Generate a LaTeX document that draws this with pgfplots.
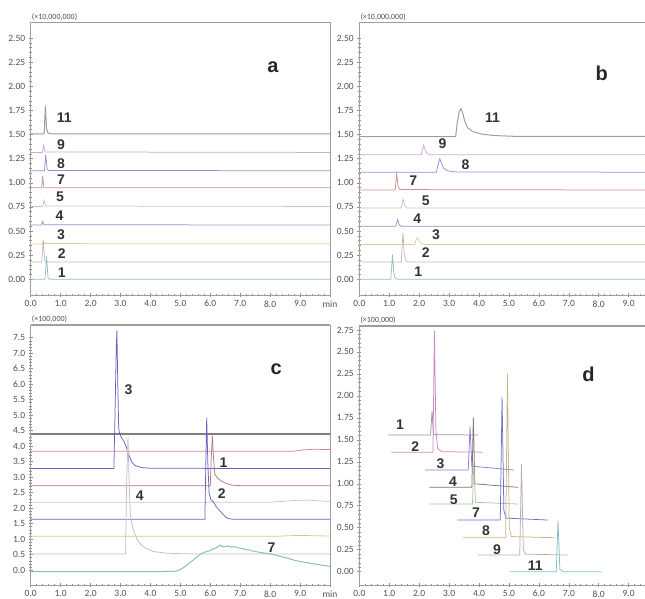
\documentclass[border=0pt]{standalone}
\usepackage{fontspec}
\setmainfont{Carlito}
\newfontfamily\lab{Liberation Sans}
\usepackage{pgfplots}
\pgfplotsset{compat=1.18}
\definecolor{framec}{HTML}{A89A9A}
\definecolor{tickc}{HTML}{505050}
\definecolor{cA}{HTML}{98BCC8}% 1 teal
\definecolor{cB}{HTML}{C4B8B0}% 2
\definecolor{cC}{HTML}{DCCCA0}% 3
\definecolor{cD}{HTML}{9A90C8}% 4
\definecolor{cE}{HTML}{B8D0B0}% 5
\definecolor{cF}{HTML}{C89090}% 7
\definecolor{cG}{HTML}{9090D0}% 8
\definecolor{cH}{HTML}{D0A8D4}% 9
\definecolor{cI}{HTML}{A89A9A}% 11
\definecolor{dk}{HTML}{8A7A7A}
\definecolor{rd}{HTML}{D08898}
\definecolor{bl}{HTML}{6A64C0}
\definecolor{br}{HTML}{B87878}
\definecolor{lg}{HTML}{B8D4B4}
\definecolor{ol}{HTML}{D4C890}
\definecolor{pg}{HTML}{CCB8BC}
\definecolor{tl}{HTML}{88BEC6}
\definecolor{dA}{HTML}{A88E9C}
\definecolor{dB}{HTML}{CC88C0}
\definecolor{dC}{HTML}{8A80C8}
\definecolor{dD}{HTML}{8A6E7A}
\definecolor{dE}{HTML}{A0C8A0}
\definecolor{dF}{HTML}{7070D0}
\definecolor{dG}{HTML}{C8B484}
\definecolor{dH}{HTML}{C0AAAA}
\definecolor{dI}{HTML}{84BCC4}
\pgfplotsset{
 chrom/.style={
  scale only axis, width=299.3pt,
  xmin=0, xmax=10, xtick={0,1,2,3,4,5,6,7,8,9,10},
  xticklabels={0.0,1.0,2.0,3.0,4.0,5.0,6.0,7.0,8.0,9.0,min},
  minor x tick num=4, minor y tick num=4,
  tick pos=left, tick align=center,
  major tick length=4pt, minor tick length=2.5pt,
  every tick/.style={draw=framec!90!black, line width=0.6pt},
  axis line style={draw=framec, line width=0.9pt},
  tick label style={font=\fontsize{9.5}{10}\selectfont, text=tickc},
  /pgf/number format/assume math mode=true,
  clip mode=individual,
  every axis plot/.append style={line width=0.75pt},
  after end axis/.code={\draw[framec, line width=1.6pt] (rel axis cs:0,1) -- (rel axis cs:1,1);},
 },
}
\tikzset{
 pk/.style={font=\lab\bfseries\fontsize{14}{14}\selectfont, text=black!80},
 pl/.style={font=\lab\bfseries\fontsize{20}{20}\selectfont, text=black!85},
 mult/.style={font=\fontsize{8}{8}\selectfont, text=tickc, anchor=south west, inner sep=1pt, yshift=1pt},
}
\begin{document}
\begin{tikzpicture}
\path[use as bounding box] (0pt,0pt) rectangle (645pt,598pt);
\clip (0pt,0pt) rectangle (645pt,598pt);
% ---------------- panel a
\begin{axis}[chrom, at={(30.7pt,303pt)}, anchor=south west, height=272.3pt,
  ymin=-0.163, ymax=2.66, ytick={0,0.25,...,2.5},
  yticklabel style={/pgf/number format/.cd, fixed, fixed zerofill, precision=2}]
\addplot[cA] coordinates {(0,0)(0.48,0)(0.53,0.24)(0.58,0.01)(0.65,0)(10,0)};
\addplot[cB] coordinates {(0,0.18)(0.37,0.18)(0.42,0.40)(0.47,0.19)(0.55,0.18)(10,0.18)};
\addplot[cC] coordinates {(0,0.367)(0.38,0.367)(0.42,0.40)(0.47,0.37)(10,0.367)};
\addplot[cD] coordinates {(0,0.563)(0.36,0.563)(0.40,0.60)(0.44,0.565)(10,0.563)};
\addplot[cE] coordinates {(0,0.755)(0.40,0.755)(0.45,0.82)(0.50,0.76)(10,0.755)};
\addplot[cF] coordinates {(0,0.948)(0.37,0.948)(0.40,1.07)(0.44,0.95)(10,0.948)};
\addplot[cG] coordinates {(0,1.126)(0.46,1.126)(0.50,1.29)(0.55,1.14)(0.62,1.127)(10,1.126)};
\addplot[cH] coordinates {(0,1.315)(0.39,1.315)(0.43,1.39)(0.48,1.32)(10,1.315)};
\addplot[cI, line width=1pt] coordinates {(0,1.507)(0.45,1.507)(0.49,1.80)(0.53,1.56)(0.58,1.515)(0.7,1.507)(10,1.507)};
\node[mult] at (rel axis cs:0,1) {(×10,000,000)};
\node[pk] at (axis cs:1.04,0.07) {1};
\node[pk] at (axis cs:1.04,0.27) {2};
\node[pk] at (axis cs:1.01,0.465) {3};
\node[pk] at (axis cs:0.96,0.66) {4};
\node[pk] at (axis cs:0.98,0.86) {5};
\node[pk] at (axis cs:1.01,1.03) {7};
\node[pk] at (axis cs:1.01,1.20) {8};
\node[pk] at (axis cs:1.01,1.40) {9};
\node[pk] at (axis cs:1.12,1.68) {11};
\node[pl] at (axis cs:8.09,2.20) {a};
\end{axis}
% ---------------- panel b
\begin{axis}[chrom, at={(359.3pt,303pt)}, anchor=south west, height=272.3pt,
  ymin=-0.163, ymax=2.66, ytick={0,0.25,...,2.5},
  yticklabel style={/pgf/number format/.cd, fixed, fixed zerofill, precision=2}]
\addplot[cA] coordinates {(0,0)(1.05,0)(1.08,0.12)(1.11,0.257)(1.15,0.07)(1.2,0.01)(1.3,0)(10,0)};
\addplot[cB] coordinates {(0,0.178)(1.40,0.178)(1.43,0.33)(1.46,0.48)(1.50,0.26)(1.56,0.19)(1.7,0.178)(10,0.178)};
\addplot[cC] coordinates {(0,0.36)(1.85,0.36)(1.90,0.41)(1.94,0.43)(2.00,0.40)(2.08,0.37)(2.2,0.36)(10,0.36)};
\addplot[cD] coordinates {(0,0.55)(1.22,0.55)(1.28,0.62)(1.34,0.56)(1.42,0.55)(10,0.55)};
\addplot[cE] coordinates {(0,0.74)(1.40,0.74)(1.46,0.83)(1.52,0.76)(1.6,0.74)(10,0.74)};
\addplot[cF] coordinates {(0,0.925)(1.20,0.925)(1.22,1.00)(1.25,1.09)(1.29,0.97)(1.35,0.93)(10,0.925)};
\addplot[cG] coordinates {(0,1.11)(2.58,1.11)(2.63,1.19)(2.69,1.25)(2.75,1.20)(2.82,1.15)(2.95,1.125)(3.2,1.113)(10,1.11)};
\addplot[cH] coordinates {(0,1.29)(2.07,1.29)(2.11,1.35)(2.15,1.39)(2.20,1.34)(2.27,1.30)(2.4,1.29)(10,1.29)};
\addplot[cI, line width=1pt] coordinates {(0,1.48)(3.22,1.48)(3.27,1.62)(3.34,1.74)(3.40,1.77)(3.46,1.72)(3.52,1.64)(3.62,1.57)(3.8,1.53)(4.1,1.505)(4.5,1.49)(5.2,1.482)(10,1.48)};
\node[mult] at (rel axis cs:0,1) {(×10,000,000)};
\node[pk] at (axis cs:1.97,0.08) {1};
\node[pk] at (axis cs:2.22,0.28) {2};
\node[pk] at (axis cs:2.56,0.46) {3};
\node[pk] at (axis cs:1.94,0.63) {4};
\node[pk] at (axis cs:2.22,0.815) {5};
\node[pk] at (axis cs:1.80,1.02) {7};
\node[pk] at (axis cs:3.55,1.19) {8};
\node[pk] at (axis cs:2.78,1.41) {9};
\node[pk] at (axis cs:4.45,1.68) {11};
\node[pl] at (axis cs:8.1,2.14) {b};
\end{axis}
% ---------------- panel c
\begin{axis}[chrom, at={(30.7pt,13pt)}, anchor=south west, height=260pt,
  ymin=-0.48, ymax=7.91, ytick={0,0.5,...,7.5},
  yticklabel style={/pgf/number format/.cd, fixed, fixed zerofill, precision=1}]
\addplot[dk, line width=1.6pt] coordinates {(0,4.39)(10,4.39)};
\addplot[rd] coordinates {(0,3.84)(8.8,3.84)(9.1,3.88)(9.5,3.90)(10,3.89)};
\addplot[bl] coordinates {(0,3.28)(2.78,3.28)(2.82,5.2)(2.86,7.2)(2.88,7.73)(2.91,6.0)(2.94,4.6)(2.97,4.4)(3.05,4.25)(3.12,4.15)(3.2,3.95)(3.28,3.72)(3.38,3.48)(3.5,3.37)(3.7,3.31)(4.0,3.285)(10,3.28)};
\addplot[br] coordinates {(0,2.72)(6.00,2.72)(6.03,3.6)(6.07,4.33)(6.11,3.6)(6.15,3.1)(6.25,2.96)(6.4,2.86)(6.55,2.79)(6.75,2.74)(7.1,2.72)(10,2.72)};
\addplot[lg] coordinates {(0,2.19)(8.0,2.19)(8.4,2.22)(8.9,2.25)(9.3,2.26)(9.7,2.23)(10,2.22)};
\addplot[bl] coordinates {(0,1.64)(5.82,1.64)(5.85,3.4)(5.88,4.92)(5.92,3.4)(5.96,2.5)(6.02,2.27)(6.1,2.2)(6.2,2.05)(6.3,1.93)(6.4,1.83)(6.5,1.72)(6.62,1.66)(6.8,1.64)(10,1.64)};
\addplot[ol] coordinates {(0,1.09)(8.2,1.09)(8.6,1.11)(9.0,1.12)(9.5,1.11)(10,1.10)};
\addplot[pg] coordinates {(0,0.52)(3.17,0.52)(3.20,2.6)(3.25,4.31)(3.29,2.8)(3.33,1.8)(3.38,1.5)(3.45,1.25)(3.55,1.0)(3.68,0.82)(3.85,0.7)(4.1,0.6)(4.5,0.55)(5.0,0.53)(5.6,0.52)(10,0.52)};
\addplot[tl, line width=1pt] coordinates {(0,-0.05)(1,-0.05)(2,-0.05)(3,-0.05)(4,-0.05)(4.8,-0.04)(4.9,-0.02)(5.0,0.02)(5.1,0.08)(5.2,0.15)(5.3,0.23)(5.4,0.3)(5.5,0.39)(5.6,0.46)(5.7,0.53)(5.8,0.57)(5.9,0.61)(6.0,0.63)(6.1,0.69)(6.2,0.72)(6.3,0.79)(6.35,0.81)(6.4,0.76)(6.5,0.76)(6.6,0.78)(6.7,0.74)(6.8,0.76)(6.9,0.72)(7.0,0.71)(7.1,0.69)(7.2,0.66)(7.3,0.65)(7.4,0.62)(7.5,0.61)(7.6,0.58)(7.7,0.57)(7.8,0.55)(7.9,0.54)(8.0,0.52)(8.2,0.48)(8.4,0.43)(8.6,0.38)(8.8,0.32)(9.0,0.28)(9.2,0.25)(9.4,0.21)(9.6,0.18)(9.8,0.15)(10,0.12)};
\node[mult] at (rel axis cs:0,1) {(×100,000)};
\node[pk] at (axis cs:3.27,5.81) {3};
\node[pk] at (axis cs:6.44,3.48) {1};
\node[pk] at (axis cs:6.38,2.48) {2};
\node[pk] at (axis cs:3.64,2.39) {4};
\node[pk] at (axis cs:8.05,0.73) {7};
\node[pl] at (axis cs:8.2,6.48) {c};
\end{axis}
% ---------------- panel d
\begin{axis}[chrom, at={(359.3pt,13pt)}, anchor=south west, height=259pt,
  ymin=-0.151, ymax=2.795, ytick={0,0.25,...,2.75},
  yticklabel style={/pgf/number format/.cd, fixed, fixed zerofill, precision=2}]
\addplot[dA] coordinates {(0.96,1.555)(2.38,1.555)(2.43,1.83)(2.48,1.56)(3.98,1.555)};
\addplot[dB] coordinates {(1.07,1.36)(2.46,1.36)(2.51,2.74)(2.56,1.6)(2.62,1.4)(2.75,1.365)(4.1,1.36)};
\addplot[dC] coordinates {(2.2,1.157)(3.64,1.157)(3.70,1.65)(3.76,1.2)(5.17,1.157)};
\addplot[dD] coordinates {(2.34,0.96)(3.76,0.96)(3.81,1.756)(3.86,1.0)(5.3,0.96)};
\addplot[dE] coordinates {(2.34,0.77)(3.78,0.77)(3.83,1.25)(3.88,0.79)(5.3,0.77)};
\addplot[dF] coordinates {(3.28,0.588)(4.71,0.588)(4.77,1.99)(4.83,0.7)(4.9,0.61)(6.3,0.588)};
\addplot[dG] coordinates {(3.47,0.387)(4.89,0.387)(4.95,2.25)(5.01,0.5)(5.08,0.40)(6.5,0.387)};
\addplot[dH] coordinates {(3.96,0.19)(5.36,0.19)(5.42,1.225)(5.48,0.25)(5.55,0.2)(6.96,0.19)};
\addplot[dI] coordinates {(5.03,0.0)(6.58,0.0)(6.64,0.58)(6.70,0.03)(6.8,0.0)(8.09,0.0)};
\node[mult] at (rel axis cs:0,1) {(×100,000)};
\node[pk] at (axis cs:1.36,1.67) {1};
\node[pk] at (axis cs:1.87,1.42) {2};
\node[pk] at (axis cs:2.71,1.23) {3};
\node[pk] at (axis cs:3.13,1.02) {4};
\node[pk] at (axis cs:3.16,0.82) {5};
\node[pk] at (axis cs:3.90,0.67) {7};
\node[pk] at (axis cs:4.23,0.47) {8};
\node[pk] at (axis cs:4.60,0.25) {9};
\node[pk] at (axis cs:5.88,0.07) {11};
\node[pl] at (axis cs:7.66,2.24) {d};
\end{axis}
\end{tikzpicture}
\end{document}
